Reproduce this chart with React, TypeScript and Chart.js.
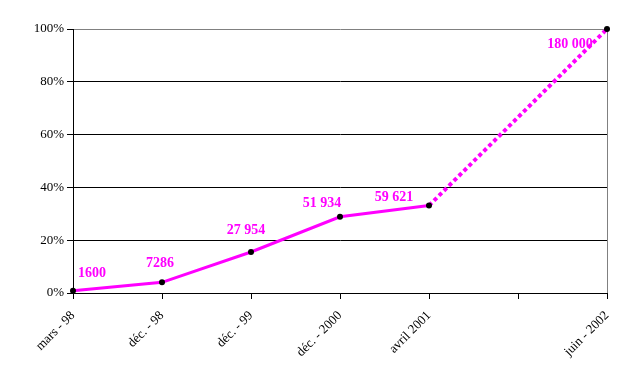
import React, { useEffect, useRef } from "react";
import { Chart, registerables } from "chart.js";

Chart.register(...registerables);

const categories = ["mars - 98", "déc. - 98", "déc. - 99", "déc. - 2000", "avril 2001", "", "juin - 2002"];
const subscribers: (number | null)[] = [1600, 7286, 27954, 51934, 59621, null, 180000];
const labelTexts = ["1600", "7286", "27 954", "51 934", "59 621", "", "180 000"];
const target = 180000;
const percentValues = subscribers.map((v) => (v === null ? null : (v / target) * 100));
const yTicks = [0, 20, 40, 60, 80, 100];

const MAGENTA = "#FF00FF";
const labelOffsets: [number, number][] = [
  [19, -17],
  [-2, -19],
  [-5, -22],
  [-18, -13],
  [-35, -8],
  [0, 0],
  [-37, 15],
];

const labelPlugin = {
  id: "valueLabels",
  afterDatasetsDraw(chart: any) {
    const ctx = chart.ctx;
    const meta = chart.getDatasetMeta(0);
    ctx.save();
    ctx.font = "bold 14px 'Liberation Serif', 'Times New Roman', serif";
    ctx.fillStyle = MAGENTA;
    ctx.textAlign = "center";
    ctx.textBaseline = "middle";
    meta.data.forEach((pt: any, i: number) => {
      if (percentValues[i] === null) return;
      const [dx, dy] = labelOffsets[i];
      ctx.fillText(labelTexts[i], pt.x + dx, pt.y + dy);
    });
    ctx.fillStyle = "#000";
    meta.data.forEach((pt: any, i: number) => {
      if (percentValues[i] === null) return;
      ctx.beginPath();
      ctx.arc(pt.x, pt.y, 3, 0, Math.PI * 2);
      ctx.fill();
    });
    ctx.restore();
  },
  beforeDatasetsDraw(chart: any) {
    const { ctx, chartArea } = chart;
    ctx.save();
    ctx.strokeStyle = "#808080";
    ctx.lineWidth = 1;
    ctx.beginPath();
    ctx.moveTo(Math.round(chartArea.right) + 0.5, chartArea.top);
    ctx.lineTo(Math.round(chartArea.right) + 0.5, chartArea.bottom);
    ctx.stroke();
    ctx.restore();
  },
};

export default function App() {
  const ref = useRef<HTMLCanvasElement | null>(null);
  useEffect(() => {
    if (!ref.current) return;
    const chart = new Chart(ref.current, {
      type: "line",
      data: {
        labels: categories,
        datasets: [
          {
            data: percentValues,
            borderColor: MAGENTA,
            borderWidth: 3,
            spanGaps: true,
            pointRadius: 0,
            tension: 0,
            segment: {
              borderDash: (c: any) => (c.p0DataIndex >= 4 ? [4, 3] : undefined),
              borderWidth: (c: any) => (c.p0DataIndex >= 4 ? 4 : 3),
            },
          },
        ],
      },
      options: {
        animation: false,
        responsive: false,
        maintainAspectRatio: false,
        layout: { padding: { top: 29, right: 17, left: 0, bottom: 0 } },
        plugins: { legend: { display: false }, tooltip: { enabled: false } },
        scales: {
          x: {
            offset: false,
            grid: {
              drawOnChartArea: false,
              drawTicks: true,
              tickLength: 6,
              color: "#000",
            },
            border: { color: "#000", width: 1 },
            ticks: {
              autoSkip: false,
              minRotation: 45,
              maxRotation: 45,
              color: "#000",
              font: { family: "'Liberation Serif', 'Times New Roman', serif", size: 13 },
              padding: 9,
            },
            afterFit: (s: any) => {
              s.height = 88;
              s.paddingRight = 0;
              s.paddingLeft = 0;
            },
          },
          y: {
            min: 0,
            max: 100,
            afterBuildTicks: (s: any) => {
              s.ticks = yTicks.map((v) => ({ value: v }));
            },
            grid: {
              color: (c: any) => (c.tick && c.tick.value === 100 ? "#808080" : "#000"),
              tickLength: 6,
              tickColor: "#000",
            },
            border: { color: "#000", width: 1 },
            ticks: {
              callback: (v: any) => v + "%",
              color: "#000",
              font: { family: "'Liberation Serif', 'Times New Roman', serif", size: 13 },
              padding: 3,
            },
            afterFit: (s: any) => {
              s.width = 73;
            },
          },
        },
      },
      plugins: [labelPlugin],
    });
    return () => chart.destroy();
  }, []);
  return (
    <div style={{ position: "fixed", left: 0, top: 0, width: 624, height: 381, background: "#fff" }}>
      <canvas ref={ref} width={624} height={381} style={{ width: 624, height: 381 }} />
    </div>
  );
}
